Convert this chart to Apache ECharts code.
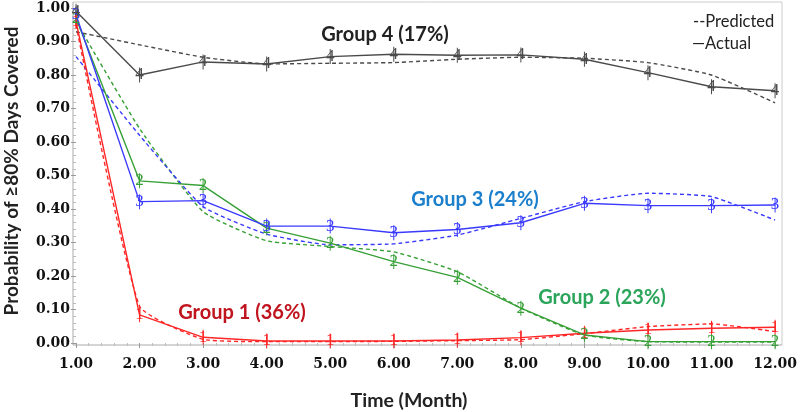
<!DOCTYPE html>
<html><head><meta charset="utf-8">
<script src="https://cdn.jsdelivr.net/npm/echarts@6/dist/echarts.min.js"></script>
<style>html,body{margin:0;padding:0;background:#fff}#c{width:800px;height:412px}</style>
</head><body><div id="c"></div>
<script>
const months = [1,2,3,4,5,6,7,8,9,10,11,12];
const yTicks = [0,0.1,0.2,0.3,0.4,0.5,0.6,0.7,0.8,0.9,1.0];
const g1Actual = [0.96,0.084,0.017,0.006,0.006,0.006,0.009,0.016,0.029,0.039,0.044,0.047];
const g1Pred   = [0.95,0.11,0.011,0.004,0.004,0.005,0.007,0.010,0.028,0.049,0.057,0.034];
const g2Actual = [0.97,0.484,0.47,0.343,0.298,0.243,0.196,0.104,0.024,0.004,0.004,0.004];
const g2Pred   = [0.96,0.64,0.392,0.305,0.288,0.272,0.213,0.104,0.024,0.004,0.003,0.003];
const g3Actual = [0.98,0.422,0.425,0.349,0.349,0.329,0.339,0.359,0.417,0.41,0.41,0.412];
const g3Pred   = [0.855,0.62,0.407,0.325,0.293,0.296,0.322,0.372,0.422,0.447,0.437,0.367];
const g4Actual = [0.99,0.80,0.839,0.833,0.855,0.862,0.859,0.86,0.847,0.807,0.765,0.753];
const g4Pred   = [0.929,0.89,0.853,0.833,0.835,0.837,0.847,0.853,0.85,0.837,0.80,0.717];

const groups = [
  {id:'1', actual:g1Actual, pred:g1Pred, color:'#ff2626'},
  {id:'2', actual:g2Actual, pred:g2Pred, color:'#36a036'},
  {id:'3', actual:g3Actual, pred:g3Pred, color:'#3a3aff'},
  {id:'4', actual:g4Actual, pred:g4Pred, color:'#4a4a4a'}
];
const pair = arr => months.map((m,i)=>[m,arr[i]]);
const series = [];
groups.forEach(g=>{
  series.push({type:'line', name:'Predicted '+g.id, data:pair(g.pred), smooth:0.15, showSymbol:false, z:2,
    lineStyle:{color:g.color, width:1.4, type:[4,3]}});
});
groups.forEach(g=>{
  series.push({type:'line', name:'Actual '+g.id, data:pair(g.actual), z:3,
    symbol:'rect', symbolSize:[1,15], itemStyle:{color:g.color},
    lineStyle:{color:g.color, width:1.4},
    label:{show:true, position:'inside', formatter:g.id, color:g.color, fontSize:17, fontFamily:'Liberation Serif'}});
});
const chart = echarts.init(document.getElementById('c'));
const axisFont = {color:'#111', fontFamily:'DejaVu Serif', fontWeight:'bold', fontSize:14};
chart.setOption({
  animation:false,
  grid:{left:76, right:18, top:8, bottom:69},
  xAxis:{type:'value', min:1, max:12, interval:1,
    axisLine:{show:false}, splitLine:{show:false},
    axisTick:{show:true, length:5, lineStyle:{color:'#999'}},
    minorTick:{show:true, splitNumber:5, length:3, lineStyle:{color:'#bbb'}},
    axisLabel:Object.assign({margin:14, formatter:v=>v.toFixed(2)}, axisFont)},
  yAxis:{type:'value', min:yTicks[0], max:yTicks[yTicks.length-1], interval:0.1,
    axisLine:{show:false}, splitLine:{show:false},
    axisTick:{show:true, length:5, lineStyle:{color:'#999'}},
    minorTick:{show:true, splitNumber:5, length:3, lineStyle:{color:'#bbb'}},
    axisLabel:Object.assign({margin:6, formatter:v=>v.toFixed(2)}, axisFont)},
  graphic:[
    {type:'line', shape:{x1:73,y1:2,x2:782,y2:2}, style:{stroke:'#ccc', lineWidth:1}},
    {type:'line', shape:{x1:782,y1:2,x2:782,y2:345}, style:{stroke:'#ccc', lineWidth:1}},
    {type:'line', shape:{x1:73,y1:345,x2:782,y2:345}, style:{stroke:'#aaa', lineWidth:1}},
    {type:'line', shape:{x1:73,y1:2,x2:73,y2:345}, style:{stroke:'#aaa', lineWidth:1}},
    {type:'text', x:12, y:171, rotation:Math.PI/2, style:{text:'Probability of \u226580% Days Covered', fill:'#222', font:'bold 19px Lato', textAlign:'center', textVerticalAlign:'middle'}},
    {type:'text', x:409, y:401, style:{text:'Time (Month)', fill:'#222', font:'bold 19.5px Lato', textAlign:'center', textVerticalAlign:'middle'}},
    {type:'text', x:693, y:22, style:{text:'--Predicted', fill:'#222', font:'16.5px Lato', textAlign:'left', textVerticalAlign:'middle'}},
    {type:'text', x:692, y:44, style:{text:'\u2014Actual', fill:'#222', font:'16.5px Lato', textAlign:'left', textVerticalAlign:'middle'}},
    {type:'text', x:385, y:35, style:{text:'Group 4 (17%)', fill:'#222', font:'bold 20px Lato', textAlign:'center', textVerticalAlign:'middle'}},
    {type:'text', x:475, y:200, style:{text:'Group 3 (24%)', fill:'#1b7fcc', font:'bold 20px Lato', textAlign:'center', textVerticalAlign:'middle'}},
    {type:'text', x:242, y:313, style:{text:'Group 1 (36%)', fill:'#c0141e', font:'bold 20px Lato', textAlign:'center', textVerticalAlign:'middle'}},
    {type:'text', x:602, y:298, style:{text:'Group 2 (23%)', fill:'#2aa55a', font:'bold 20px Lato', textAlign:'center', textVerticalAlign:'middle'}}
  ],
  series:series
});
</script></body></html>
